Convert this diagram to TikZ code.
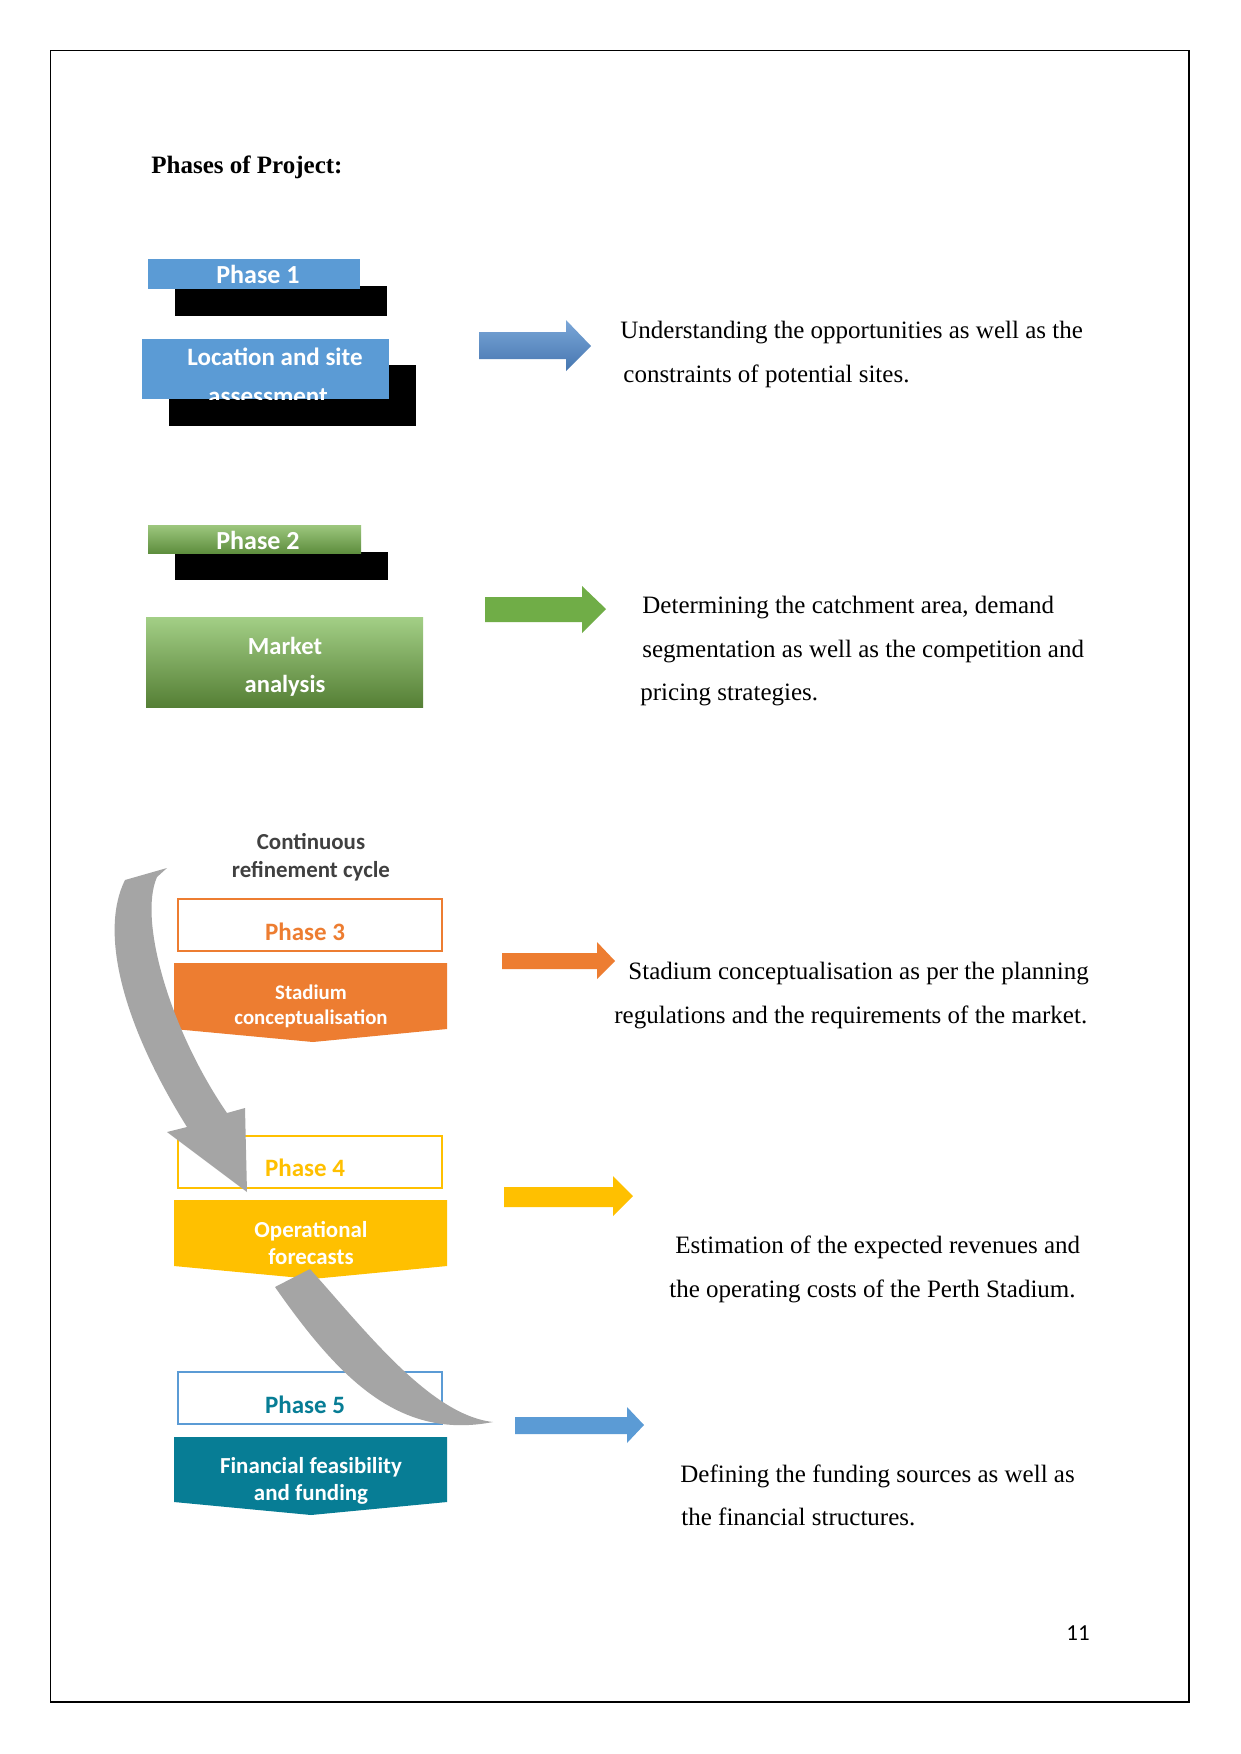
\documentclass[tikz,border=0pt]{standalone}
\usepackage{fontspec}
\setmainfont{Liberation Serif}
\newfontfamily\calib{Carlito}
\definecolor{pblue}{HTML}{5B9BD5}
\definecolor{porange}{HTML}{ED7D31}
\definecolor{pyellow}{HTML}{FFC000}
\definecolor{pteal}{HTML}{077D95}
\definecolor{pgreen}{HTML}{70AD47}
\definecolor{pgray}{HTML}{A5A5A5}
\definecolor{darktext}{HTML}{404040}
\definecolor{gbarTop}{HTML}{9DC77E}
\definecolor{gbarBot}{HTML}{5E8E3E}
\definecolor{gboxTop}{HTML}{A3CF86}
\definecolor{gboxBot}{HTML}{557F35}
\definecolor{barrTop}{HTML}{7BA7D8}
\definecolor{barrBot}{HTML}{4676B0}
\begin{document}
\begin{tikzpicture}[x=0.48pt,y=-0.48pt,
  every node/.append style={yshift=-1.1pt},
  body/.style={font=\fontsize{12}{14}\selectfont, anchor=west, inner sep=0pt, text height=8.4pt, text depth=2.4pt},
  lbl/.style={font=\calib\bfseries\fontsize{12.5}{14}\selectfont, text=white, inner sep=0pt, text height=0.7em, text depth=0.2em},
  sublbl/.style={font=\calib\bfseries\fontsize{#1}{13}\selectfont, text=white, inner sep=0pt, text height=0.7em, text depth=0.2em},
  phaselbl/.style={font=\calib\bfseries\fontsize{12}{14}\selectfont, text=#1, inner sep=0pt, text height=0.7em, text depth=0.2em},
  outlinebox/.style={draw=#1, line width=1.2pt, fill=white},
  grayarrow/.style={fill=pgray, draw=none},
]
\useasboundingbox (0,0) rectangle (1241,1754);
\fill[white] (0,0) rectangle (1241,1754);
\draw[line width=0.75pt] (50.5,50.5) rectangle (1189,1702);

% title
\node[font=\bfseries\fontsize{12}{14}\selectfont, anchor=west, inner sep=0pt, text height=8.4pt, text depth=2.4pt] (title) at (151,165) {Phases of Project:};

% Phase 1
\fill[black] (175,286) rectangle (387,316);
\fill[pblue] (148,259) rectangle (360,289);
\node[lbl] (p1) at (258,276) {Phase 1};
\fill[black] (169,365) rectangle (416,426);
\fill[pblue] (142,339) rectangle (389,399);
\begin{scope}
  \clip (142,339) rectangle (389,399);
  \node[sublbl=12] (loc1) at (275,358) {Location and site};
  \node[sublbl=12] (loc2) at (268,397) {assessment};
\end{scope}

% Phase 2
\fill[black] (175,552) rectangle (388,580);
\shade[top color=gbarTop, bottom color=gbarBot] (148,525) rectangle (361,553);
\node[lbl] (p2) at (258,542) {Phase 2};
\shade[top color=gboxTop, bottom color=gboxBot] (146,617) rectangle (423,707);
\node[sublbl=11.8] (mk1) at (285,647) {Market};
\node[sublbl=11.8] (mk2) at (285,685) {analysis};

% continuous refinement cycle
\node[font=\calib\bfseries\fontsize{11}{13}\selectfont, text=darktext, inner sep=0pt, text height=0.7em, text depth=0.2em] (c1) at (311,842) {Continuous};
\node[font=\calib\bfseries\fontsize{11}{13}\selectfont, text=darktext, inner sep=0pt, text height=0.7em, text depth=0.2em] (c2) at (311,870) {refinement cycle};

% Phase 3
\draw[outlinebox=porange] (178,899) rectangle (442,951);
\node[phaselbl=porange] (p3) at (305,933) {Phase 3};
\fill[porange] (174,963) -- (447,963) -- (447,1029) -- (313,1042) -- (174,1029) -- cycle;
\node[sublbl=10] (s1) at (311,992) {Stadium};
\node[sublbl=10] (s2) at (311,1017) {conceptualisation};

% Phase 4
\draw[outlinebox=pyellow] (178,1136) rectangle (442,1188);
\node[phaselbl=pyellow] (p4) at (305,1169) {Phase 4};
\fill[pyellow] (174,1200) -- (447,1200) -- (447,1266) -- (312,1279) -- (174,1266) -- cycle;
\node[sublbl=11] (o1) at (311,1230) {Operational};
\node[sublbl=11] (o2) at (311,1257) {forecasts};

% Phase 5
\draw[outlinebox=pblue] (178,1372) rectangle (442,1424);
\node[phaselbl=pteal] (p5) at (305,1406) {Phase 5};
\fill[pteal] (174,1437) -- (447,1437) -- (447,1502) -- (311,1515) -- (174,1502) -- cycle;
\node[sublbl=11] (f1) at (311,1466) {Financial feasibility};
\node[sublbl=11] (f2) at (311,1493) {and funding};

% gray curved arrows
\fill[grayarrow] (125,880) .. controls (100,930) and (120,1020) .. (187,1127)
  -- (167,1132) -- (247,1192) -- (245,1108) -- (227,1113)
  .. controls (170,1030) and (138,920) .. (157,877) -- (167,868) -- cycle;
\fill[grayarrow] (275,1287) .. controls (340,1380) and (400,1440) .. (493,1422)
  .. controls (430,1415) and (365,1330) .. (310,1269) -- cycle;

% right block arrows
\shade[top color=barrTop, bottom color=barrBot] (479,332) -- (566,332) -- (566,320) -- (591,346) -- (566,371) -- (566,359) -- (479,359) -- cycle;
\fill[pgreen] (485,597) -- (582,597) -- (582,586) -- (606,609) -- (582,633) -- (582,622) -- (485,622) -- cycle;
\fill[porange] (502,953) -- (597,953) -- (597,942) -- (615,961) -- (597,979) -- (597,969) -- (502,969) -- cycle;
\fill[pyellow] (504,1187) -- (613,1187) -- (613,1176) -- (633,1196) -- (613,1216) -- (613,1207) -- (504,1207) -- cycle;
\fill[pblue] (515,1417) -- (627,1417) -- (627,1407) -- (644,1425) -- (627,1443) -- (627,1434) -- (515,1434) -- cycle;

% descriptions
\node[body] (d1a) at (620,330) {Understanding the opportunities as well as the};
\node[body] (d1b) at (623,374) {constraints of potential sites.};
\node[body] (d2a) at (642,605) {Determining the catchment area, demand};
\node[body] (d2b) at (642,649) {segmentation as well as the competition and};
\node[body] (d2c) at (640,692) {pricing strategies.};
\node[body] (d3a) at (628,971) {Stadium conceptualisation as per the planning};
\node[body] (d3b) at (614,1015) {regulations and the requirements of the market.};
\node[body] (d4a) at (675,1245) {Estimation of the expected revenues and};
\node[body] (d4b) at (669,1289) {the operating costs of the Perth Stadium.};
\node[body] (d5a) at (680,1474) {Defining the funding sources as well as};
\node[body] (d5b) at (681,1517) {the financial structures.};

% page number
\node[font=\calib\fontsize{11}{13}\selectfont, inner sep=0pt, text height=0.7em, text depth=0.2em] (pg) at (1078,1633) {11};
\end{tikzpicture}
\end{document}
